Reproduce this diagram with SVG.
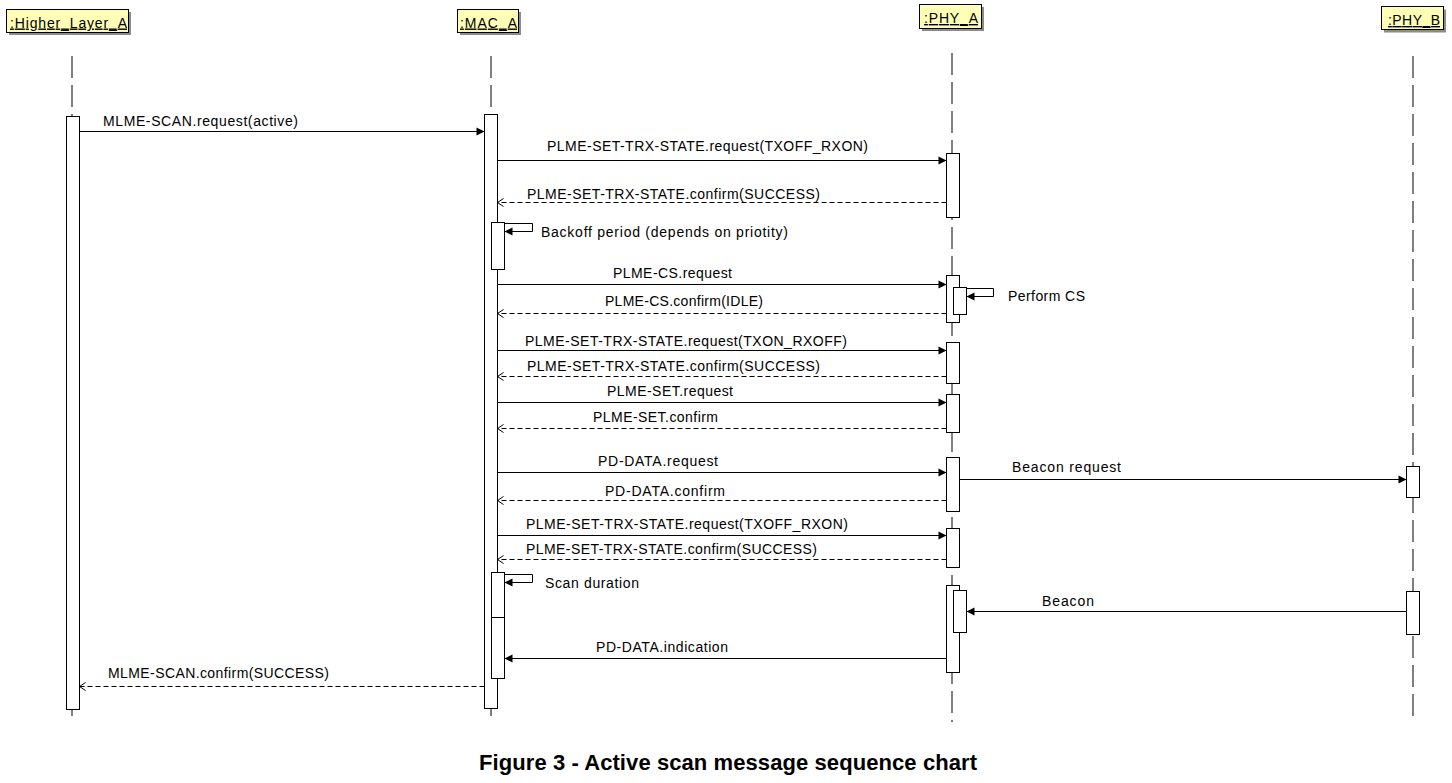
<svg xmlns="http://www.w3.org/2000/svg" width="1452" height="783" viewBox="0 0 1452 783">
<style>
  .bg { fill: #ffffff; }
  .head { fill: #ffffb8; stroke: #000; stroke-width: 1; }
  .shadow { fill: #8c8c8c; }
  .htxt { font-family: "Liberation Sans", Arial, sans-serif; font-size: 14px; fill: #000; text-decoration: underline; }
  .life { stroke: #000; stroke-width: 1; stroke-dasharray: 22 7; fill: none; }
  .act { fill: #ffffff; stroke: #000; stroke-width: 1; }
  .call { stroke: #000; stroke-width: 1; fill: none; marker-end: url(#filled); }
  .ret { stroke: #000; stroke-width: 1; fill: none; stroke-dasharray: 5 3; marker-end: url(#open); }
  .lbl { font-family: "Liberation Sans", Arial, sans-serif; font-size: 14px; fill: #000; }
  .cap { font-family: "Liberation Sans", Arial, sans-serif; font-size: 22px; font-weight: bold; fill: #000; }
</style>
<defs>
  <marker id="filled" markerUnits="userSpaceOnUse" markerWidth="9" markerHeight="9" refX="8" refY="4" orient="auto" overflow="visible">
    <path d="M0,0 L8,4 L0,8 z" fill="#000"/>
  </marker>
  <marker id="open" markerUnits="userSpaceOnUse" markerWidth="9" markerHeight="9" refX="6" refY="4" orient="auto" overflow="visible">
    <path d="M0,0 L6,4 L0,8" fill="none" stroke="#000" stroke-width="1"/>
  </marker>
</defs>
<rect class="bg" x="0" y="0" width="1452" height="783"/>

<g id="higher_layer_a">
  <line class="life" x1="72" y1="56" x2="72" y2="722"/>
  <rect class="shadow" x="9" y="12" width="122" height="23"/>
  <rect class="head" x="6.5" y="9.5" width="122" height="23"/>
  <text class="htxt" x="10" y="27.5" textLength="117" lengthAdjust="spacing">:Higher_Layer_A</text>
  <rect class="act" x="66.5" y="116.5" width="13" height="593"/>
</g>

<g id="mac_a">
  <line class="life" x1="491" y1="56" x2="491" y2="722"/>
  <rect class="shadow" x="460" y="12" width="61" height="23"/>
  <rect class="head" x="457.5" y="9.5" width="61" height="23"/>
  <text class="htxt" x="460" y="27.5" textLength="57" lengthAdjust="spacing">:MAC_A</text>
  <rect class="act" x="484.5" y="114.5" width="13" height="594"/>
  <rect class="act" x="491.5" y="222.5" width="13" height="47"/>
  <rect class="act" x="491.5" y="572.5" width="13" height="45"/>
  <rect class="act" x="491.5" y="617.5" width="13" height="61"/>
</g>

<g id="phy_a">
  <line class="life" x1="952" y1="53" x2="952" y2="722"/>
  <rect class="shadow" x="922" y="7" width="62" height="24"/>
  <rect class="head" x="919.5" y="4.5" width="62" height="24"/>
  <text class="htxt" x="924" y="23" textLength="54" lengthAdjust="spacing">:PHY_A</text>
  <rect class="act" x="946.5" y="153.5" width="13" height="64"/>
  <rect class="act" x="946.5" y="275.5" width="13" height="47"/>
  <rect class="act" x="953.5" y="287.5" width="13" height="27"/>
  <rect class="act" x="946.5" y="342.5" width="13" height="41"/>
  <rect class="act" x="946.5" y="394.5" width="13" height="38"/>
  <rect class="act" x="946.5" y="457.5" width="13" height="54"/>
  <rect class="act" x="946.5" y="528.5" width="13" height="39"/>
  <rect class="act" x="946.5" y="585.5" width="13" height="87"/>
  <rect class="act" x="953.5" y="590.5" width="13" height="42"/>
</g>

<g id="phy_b">
  <line class="life" x1="1413" y1="56" x2="1413" y2="722"/>
  <rect class="shadow" x="1384" y="9.5" width="62" height="23"/>
  <rect class="head" x="1381.5" y="6.5" width="62" height="23"/>
  <text class="htxt" x="1388" y="25" textLength="52" lengthAdjust="spacing">:PHY_B</text>
  <rect class="act" x="1406.5" y="466.5" width="13" height="31"/>
  <rect class="act" x="1406.5" y="591.5" width="13" height="43"/>
</g>

<g id="connectors">
  <g id="m1">
    <line class="call" x1="79.5" y1="131.5" x2="484.5" y2="131.5"/>
    <text class="lbl" x="103" y="126" textLength="195" lengthAdjust="spacing">MLME-SCAN.request(active)</text>
  </g>
  <g id="m2">
    <line class="call" x1="497.5" y1="160.5" x2="946.5" y2="160.5"/>
    <text class="lbl" x="547" y="151" textLength="321" lengthAdjust="spacing">PLME-SET-TRX-STATE.request(TXOFF_RXON)</text>
  </g>
  <g id="m3">
    <line class="ret" x1="946.5" y1="202.5" x2="497.5" y2="202.5"/>
    <text class="lbl" x="527" y="199" textLength="293" lengthAdjust="spacing">PLME-SET-TRX-STATE.confirm(SUCCESS)</text>
  </g>
  <g id="m4">
    <path class="call" d="M504.5,223.5 H532.5 V231.5 H504.5"/>
    <text class="lbl" x="541" y="237" textLength="247" lengthAdjust="spacing">Backoff period (depends on priotity)</text>
  </g>
  <g id="m5">
    <line class="call" x1="497.5" y1="284.5" x2="946.5" y2="284.5"/>
    <text class="lbl" x="613" y="278" textLength="119" lengthAdjust="spacing">PLME-CS.request</text>
  </g>
  <g id="m6">
    <line class="ret" x1="946.5" y1="313.5" x2="497.5" y2="313.5"/>
    <text class="lbl" x="605" y="306" textLength="158" lengthAdjust="spacing">PLME-CS.confirm(IDLE)</text>
  </g>
  <g id="m7">
    <path class="call" d="M966.5,288.5 H993.5 V296.5 H966.5"/>
    <text class="lbl" x="1008" y="300.5" textLength="77" lengthAdjust="spacing">Perform CS</text>
  </g>
  <g id="m8">
    <line class="call" x1="497.5" y1="350.5" x2="946.5" y2="350.5"/>
    <text class="lbl" x="525" y="345.5" textLength="322" lengthAdjust="spacing">PLME-SET-TRX-STATE.request(TXON_RXOFF)</text>
  </g>
  <g id="m9">
    <line class="ret" x1="946.5" y1="376.5" x2="497.5" y2="376.5"/>
    <text class="lbl" x="527" y="370.5" textLength="293" lengthAdjust="spacing">PLME-SET-TRX-STATE.confirm(SUCCESS)</text>
  </g>
  <g id="m10">
    <line class="call" x1="497.5" y1="402.5" x2="946.5" y2="402.5"/>
    <text class="lbl" x="607" y="395.5" textLength="126" lengthAdjust="spacing">PLME-SET.request</text>
  </g>
  <g id="m11">
    <line class="ret" x1="946.5" y1="428.5" x2="497.5" y2="428.5"/>
    <text class="lbl" x="593" y="421.5" textLength="125" lengthAdjust="spacing">PLME-SET.confirm</text>
  </g>
  <g id="m12">
    <line class="call" x1="497.5" y1="472.5" x2="946.5" y2="472.5"/>
    <text class="lbl" x="598" y="466" textLength="120" lengthAdjust="spacing">PD-DATA.request</text>
  </g>
  <g id="m13">
    <line class="ret" x1="946.5" y1="500.5" x2="497.5" y2="500.5"/>
    <text class="lbl" x="605" y="495.5" textLength="120" lengthAdjust="spacing">PD-DATA.confirm</text>
  </g>
  <g id="m14">
    <line class="call" x1="959.5" y1="479.5" x2="1406.5" y2="479.5"/>
    <text class="lbl" x="1012" y="471.5" textLength="109" lengthAdjust="spacing">Beacon request</text>
  </g>
  <g id="m15">
    <line class="call" x1="497.5" y1="535.5" x2="946.5" y2="535.5"/>
    <text class="lbl" x="526" y="529" textLength="322" lengthAdjust="spacing">PLME-SET-TRX-STATE.request(TXOFF_RXON)</text>
  </g>
  <g id="m16">
    <line class="ret" x1="946.5" y1="559.5" x2="497.5" y2="559.5"/>
    <text class="lbl" x="526" y="554" textLength="291" lengthAdjust="spacing">PLME-SET-TRX-STATE.confirm(SUCCESS)</text>
  </g>
  <g id="m17">
    <path class="call" d="M504.5,574.5 H532.5 V582.5 H504.5"/>
    <text class="lbl" x="545" y="588" textLength="94" lengthAdjust="spacing">Scan duration</text>
  </g>
  <g id="m18">
    <line class="call" x1="1406.5" y1="611.5" x2="966.5" y2="611.5"/>
    <text class="lbl" x="1042" y="606" textLength="52" lengthAdjust="spacing">Beacon</text>
  </g>
  <g id="m19">
    <line class="call" x1="946.5" y1="658.5" x2="504.5" y2="658.5"/>
    <text class="lbl" x="596" y="652" textLength="132" lengthAdjust="spacing">PD-DATA.indication</text>
  </g>
  <g id="m20">
    <line class="ret" x1="484.5" y1="686.5" x2="79.5" y2="686.5"/>
    <text class="lbl" x="108" y="678" textLength="221" lengthAdjust="spacing">MLME-SCAN.confirm(SUCCESS)</text>
  </g>
</g>

<text class="cap" x="479" y="769.5" textLength="498" lengthAdjust="spacing">Figure 3 - Active scan message sequence chart</text>
</svg>
